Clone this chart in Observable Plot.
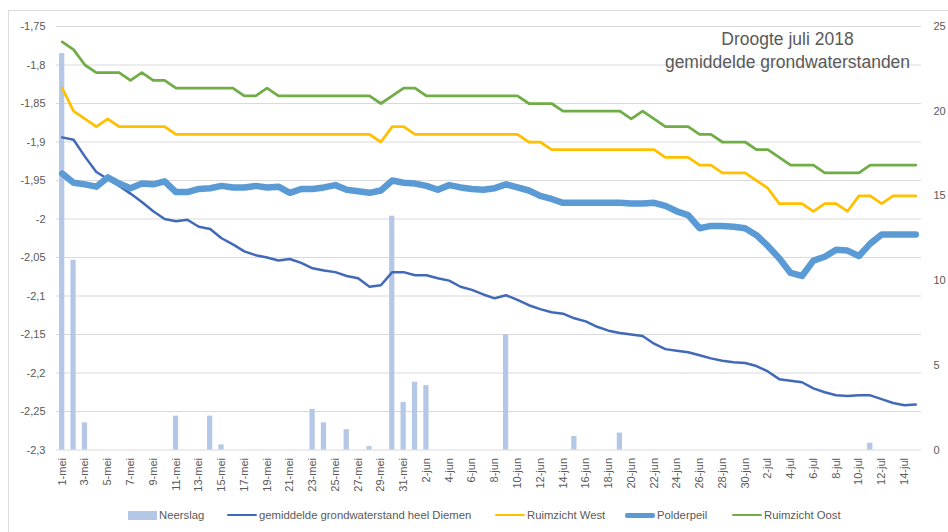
<!DOCTYPE html>
<html><head><meta charset="utf-8">
<script src="https://cdn.jsdelivr.net/npm/d3@7"></script>
<script src="https://cdn.jsdelivr.net/npm/@observablehq/plot@0.6"></script>
<style>
body{margin:0;background:#fff;}
#wrap{position:relative;width:948px;height:532px;overflow:hidden;font-family:"Liberation Sans",Arial,sans-serif;background:#fff;}
#chart{position:absolute;left:0;top:0;}
#frame{position:absolute;left:8px;top:10px;right:0;bottom:0;border-top:1px solid #dcdcdc;border-left:1px solid #dcdcdc;}
#title{position:absolute;left:640px;width:295px;top:28px;text-align:center;color:#595959;font-size:17.5px;line-height:23px;}
.lg{position:absolute;top:507px;height:16px;display:flex;align-items:center;font-size:11.3px;color:#595959;white-space:nowrap;}
.sw{display:inline-block;margin-right:2px;}
</style></head>
<body><div id="wrap"><div id="frame"></div><div id="chart"></div>
<div id="title">Droogte juli 2018<br>gemiddelde grondwaterstanden</div>
<div id="legend"></div></div>
<script>
const dates = ["1-mei","2-mei","3-mei","4-mei","5-mei","6-mei","7-mei","8-mei","9-mei","10-mei","11-mei","12-mei","13-mei","14-mei","15-mei","16-mei","17-mei","18-mei","19-mei","20-mei","21-mei","22-mei","23-mei","24-mei","25-mei","26-mei","27-mei","28-mei","29-mei","30-mei","31-mei",
"1-jun","2-jun","3-jun","4-jun","5-jun","6-jun","7-jun","8-jun","9-jun","10-jun","11-jun","12-jun","13-jun","14-jun","15-jun","16-jun","17-jun","18-jun","19-jun","20-jun","21-jun","22-jun","23-jun","24-jun","25-jun","26-jun","27-jun","28-jun","29-jun","30-jun",
"1-jul","2-jul","3-jul","4-jul","5-jul","6-jul","7-jul","8-jul","9-jul","10-jul","11-jul","12-jul","13-jul","14-jul","15-jul"];

const neerslag = [23.4,11.2,1.6,0,0,0,0,0,0,0, 2.0,0,0,2.0,0.3,0,0,0,0,0, 0,0,2.4,1.6,0,1.2,0,0.2,0,13.8, 2.8,4.0,3.8,0,0,0,0,0,0,6.8, 0,0,0,0,0,0.8,0,0,0,1.0, 0,0,0,0,0,0,0,0,0,0, 0,0,0,0,0,0,0,0,0,0, 0,0.4,0,0,0,0];

const heelDiemen = [-1.894,-1.897,-1.919,-1.939,-1.948,-1.957,-1.967,-1.978,-1.990,-2.000,
-2.003,-2.001,-2.010,-2.013,-2.025,-2.033,-2.042,-2.047,-2.050,-2.054,
-2.052,-2.057,-2.064,-2.067,-2.069,-2.074,-2.077,-2.088,-2.086,-2.069,
-2.069,-2.073,-2.073,-2.077,-2.080,-2.088,-2.092,-2.098,-2.103,-2.099,
-2.105,-2.112,-2.117,-2.121,-2.123,-2.129,-2.133,-2.140,-2.145,-2.148,
-2.150,-2.152,-2.162,-2.169,-2.171,-2.173,-2.177,-2.181,-2.184,-2.186,
-2.187,-2.191,-2.198,-2.208,-2.210,-2.212,-2.220,-2.225,-2.229,-2.230,
-2.229,-2.229,-2.234,-2.239,-2.242,-2.241];

const ruimzichtWest = [-1.83,-1.86,-1.87,-1.88,-1.87,-1.88,-1.88,-1.88,-1.88,-1.88,
-1.89,-1.89,-1.89,-1.89,-1.89,-1.89,-1.89,-1.89,-1.89,-1.89,
-1.89,-1.89,-1.89,-1.89,-1.89,-1.89,-1.89,-1.89,-1.90,-1.88,
-1.88,-1.89,-1.89,-1.89,-1.89,-1.89,-1.89,-1.89,-1.89,-1.89,
-1.89,-1.90,-1.90,-1.91,-1.91,-1.91,-1.91,-1.91,-1.91,-1.91,
-1.91,-1.91,-1.91,-1.92,-1.92,-1.92,-1.93,-1.93,-1.94,-1.94,
-1.94,-1.95,-1.96,-1.98,-1.98,-1.98,-1.99,-1.98,-1.98,-1.99,
-1.97,-1.97,-1.98,-1.97,-1.97,-1.97];

const polderpeil = [-1.941,-1.953,-1.955,-1.958,-1.946,-1.954,-1.960,-1.954,-1.955,-1.951,
-1.965,-1.965,-1.961,-1.960,-1.957,-1.959,-1.959,-1.957,-1.959,-1.958,
-1.966,-1.961,-1.961,-1.959,-1.956,-1.962,-1.964,-1.966,-1.963,-1.950,
-1.953,-1.954,-1.957,-1.962,-1.956,-1.959,-1.961,-1.962,-1.960,-1.955,
-1.959,-1.963,-1.970,-1.974,-1.979,-1.979,-1.979,-1.979,-1.979,-1.979,
-1.980,-1.980,-1.979,-1.983,-1.990,-1.995,-2.012,-2.009,-2.009,-2.010,
-2.012,-2.021,-2.035,-2.051,-2.070,-2.074,-2.054,-2.049,-2.040,-2.041,
-2.048,-2.032,-2.020,-2.020,-2.020,-2.020];

const ruimzichtOost = [-1.77,-1.78,-1.80,-1.81,-1.81,-1.81,-1.82,-1.81,-1.82,-1.82,
-1.83,-1.83,-1.83,-1.83,-1.83,-1.83,-1.84,-1.84,-1.83,-1.84,
-1.84,-1.84,-1.84,-1.84,-1.84,-1.84,-1.84,-1.84,-1.85,-1.84,
-1.83,-1.83,-1.84,-1.84,-1.84,-1.84,-1.84,-1.84,-1.84,-1.84,
-1.84,-1.85,-1.85,-1.85,-1.86,-1.86,-1.86,-1.86,-1.86,-1.86,
-1.87,-1.86,-1.87,-1.88,-1.88,-1.88,-1.89,-1.89,-1.90,-1.90,
-1.90,-1.91,-1.91,-1.92,-1.93,-1.93,-1.93,-1.94,-1.94,-1.94,
-1.94,-1.93,-1.93,-1.93,-1.93,-1.93];

const leftTicks = [-2.3,-2.25,-2.2,-2.15,-2.1,-2.05,-2,-1.95,-1.9,-1.85,-1.8,-1.75];
const rightTicks = [0,5,10,15,20,25];
const xTickIdx = dates.map((d,i)=>i).filter(i=>i%2===0);

const seriesNames = ["Neerslag","gemiddelde grondwaterstand heel Diemen","Ruimzicht West","Polderpeil","Ruimzicht Oost"];
const seriesColors = ["#b4c7e7","#4169b8","#ffc000","#5b9bd5","#70ad47"];

const y0 = -2.3, y1 = -1.75, rMax = 25, k = (y1 - y0) / rMax;
const rows = dates.map((d,i)=>({i, date:d, rain:neerslag[i], diemen:heelDiemen[i], west:ruimzichtWest[i], polder:polderpeil[i], oost:ruimzichtOost[i]}));
const fmt = v => String(+v.toFixed(2)).replace(".", ",");

const chart = Plot.plot({
  width: 948, height: 500,
  marginTop: 26, marginBottom: 50.5, marginLeft: 56, marginRight: 27,
  style: {fontFamily: '"Liberation Sans", Arial, sans-serif', fontSize: "11px", color: "#595959", background: "transparent"},
  x: {type: "linear", domain: [-0.5, dates.length - 0.5]},
  y: {domain: [y0, y1]},
  marks: [
    Plot.gridY(leftTicks, {stroke: "#d9d9d9", strokeOpacity: 1, strokeWidth: 1}),
    Plot.rect(rows, {x1: d => d.i - 0.23, x2: d => d.i + 0.23, y1: d => y0, y2: d => y0 + d.rain * k, fill: seriesColors[0]}),
    Plot.line(rows, {x: "i", y: "diemen", stroke: seriesColors[1], strokeWidth: 2.5, strokeLinejoin: "round"}),
    Plot.line(rows, {x: "i", y: "west", stroke: seriesColors[2], strokeWidth: 2.75, strokeLinejoin: "round"}),
    Plot.line(rows, {x: "i", y: "polder", stroke: seriesColors[3], strokeWidth: 6.5, strokeLinejoin: "round"}),
    Plot.line(rows, {x: "i", y: "oost", stroke: seriesColors[4], strokeWidth: 2.75, strokeLinejoin: "round"}),
    Plot.axisY(leftTicks, {anchor: "left", label: null, tickSize: 0, tickPadding: 11, tickFormat: fmt}),
    Plot.axisY(rightTicks.map(t => y0 + t * k), {anchor: "right", label: null, tickSize: 0, tickPadding: 12, tickFormat: v => String(Math.round((v - y0) / k))}),
    Plot.axisX(xTickIdx, {anchor: "bottom", label: null, tickSize: 0, tickPadding: 8, tickRotate: -90, tickFormat: i => dates[i]})
  ]
});
document.getElementById("chart").appendChild(chart);

const lefts = [128, 227, 495, 625, 732];
const legend = document.getElementById("legend");
seriesNames.forEach((name, j) => {
  const item = document.createElement("div");
  item.className = "lg";
  item.style.left = lefts[j] + "px";
  const sw = document.createElement("span");
  sw.className = "sw";
  if (j === 0) { sw.style.width = "29px"; sw.style.height = "9px"; sw.style.background = seriesColors[j]; }
  else { sw.style.width = "30px"; sw.style.height = (j === 3 ? 5 : 2.5) + "px"; sw.style.background = seriesColors[j]; sw.style.borderRadius = "2px"; }
  item.appendChild(sw);
  const t = document.createElement("span");
  t.textContent = name;
  item.appendChild(t);
  legend.appendChild(item);
});
</script></body></html>
